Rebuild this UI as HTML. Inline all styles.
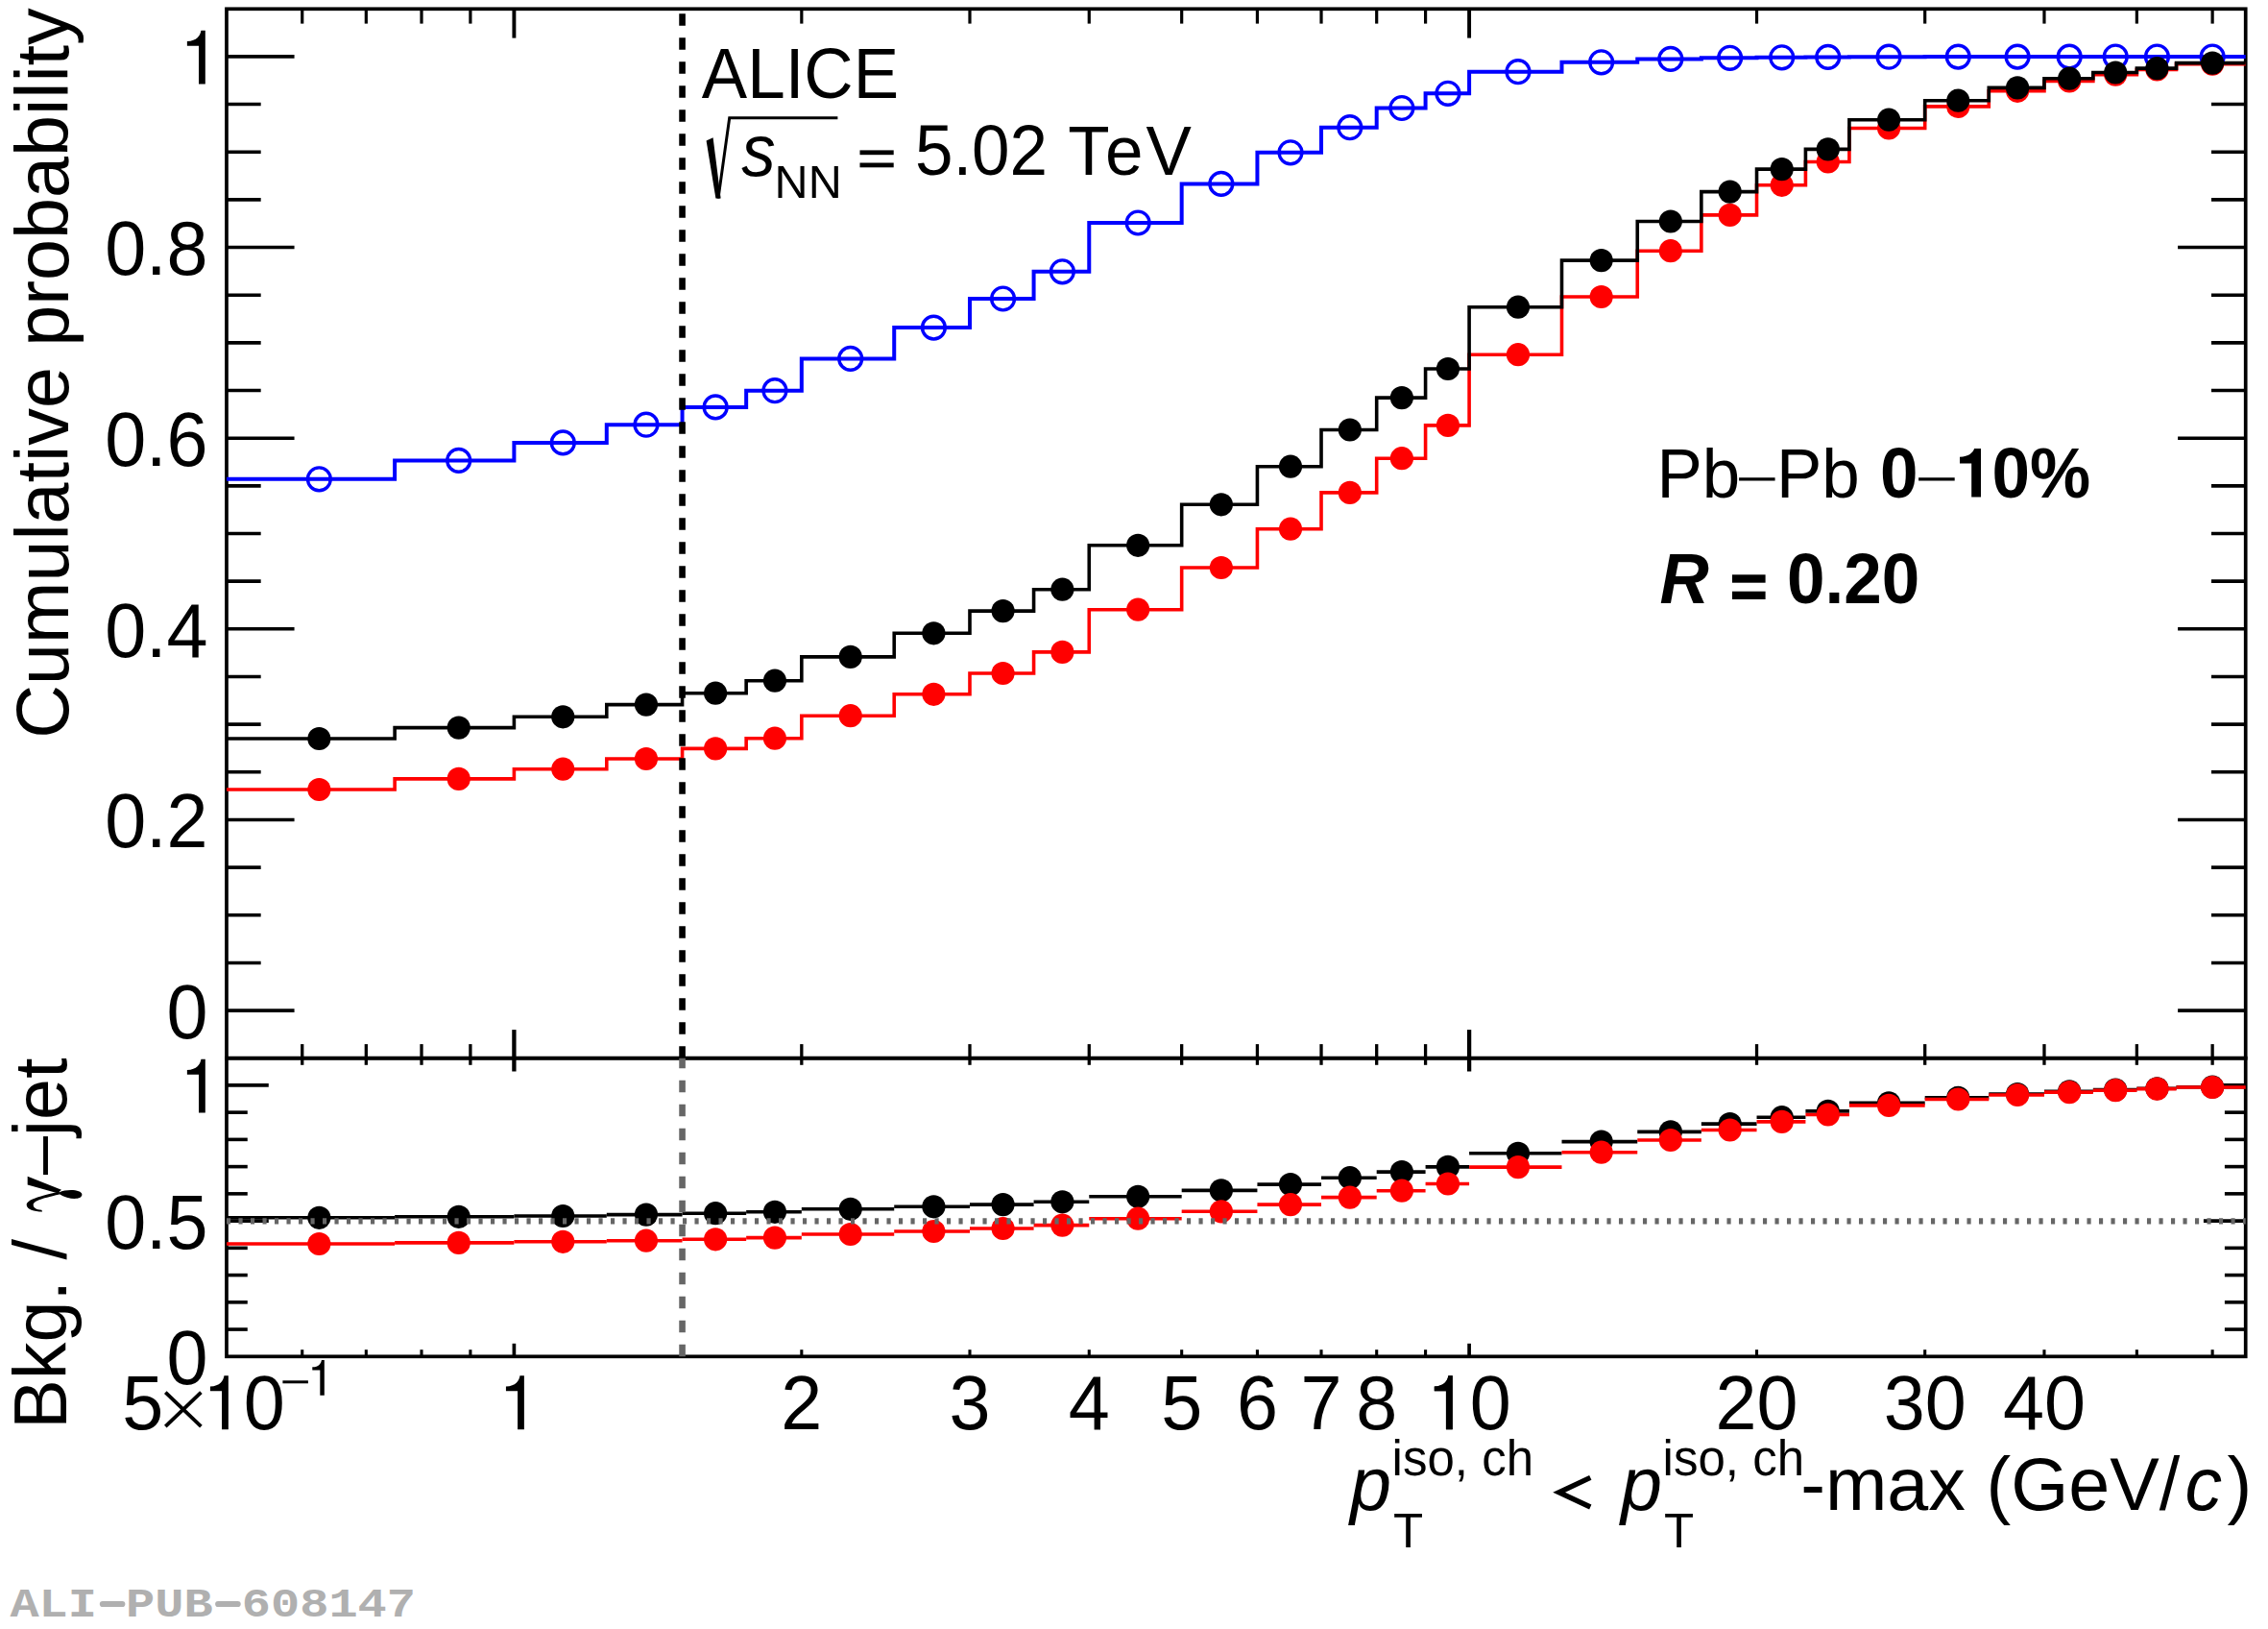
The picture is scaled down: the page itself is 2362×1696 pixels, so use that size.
<!DOCTYPE html>
<html><head><meta charset="utf-8"><title>ALI-PUB-608147</title>
<style>html,body{margin:0;padding:0;background:#fff}svg{display:block}text{font-family:"Liberation Sans",sans-serif}text.m{font-family:"Liberation Mono",monospace}</style></head>
<body>
<svg width="2362" height="1696" viewBox="0 0 2362 1696">
<rect width="2362" height="1696" fill="#fff"/>
<rect x="235.97" y="9.3" width="2102.74" height="1092.40" fill="none" stroke="#000" stroke-width="3.7"/>
<rect x="235.97" y="1101.7" width="2102.74" height="310.60" fill="none" stroke="#000" stroke-width="3.7"/>
<g id="ticks">
<line x1="235.97" y1="1052.10" x2="306.57" y2="1052.10" stroke="#000" stroke-width="3.6" />
<line x1="2338.70" y1="1052.10" x2="2268.10" y2="1052.10" stroke="#000" stroke-width="3.6" />
<line x1="235.97" y1="1002.44" x2="271.67" y2="1002.44" stroke="#000" stroke-width="3.6" />
<line x1="2338.70" y1="1002.44" x2="2303.00" y2="1002.44" stroke="#000" stroke-width="3.6" />
<line x1="235.97" y1="952.78" x2="271.67" y2="952.78" stroke="#000" stroke-width="3.6" />
<line x1="2338.70" y1="952.78" x2="2303.00" y2="952.78" stroke="#000" stroke-width="3.6" />
<line x1="235.97" y1="903.12" x2="271.67" y2="903.12" stroke="#000" stroke-width="3.6" />
<line x1="2338.70" y1="903.12" x2="2303.00" y2="903.12" stroke="#000" stroke-width="3.6" />
<line x1="235.97" y1="853.46" x2="306.57" y2="853.46" stroke="#000" stroke-width="3.6" />
<line x1="2338.70" y1="853.46" x2="2268.10" y2="853.46" stroke="#000" stroke-width="3.6" />
<line x1="235.97" y1="803.80" x2="271.67" y2="803.80" stroke="#000" stroke-width="3.6" />
<line x1="2338.70" y1="803.80" x2="2303.00" y2="803.80" stroke="#000" stroke-width="3.6" />
<line x1="235.97" y1="754.14" x2="271.67" y2="754.14" stroke="#000" stroke-width="3.6" />
<line x1="2338.70" y1="754.14" x2="2303.00" y2="754.14" stroke="#000" stroke-width="3.6" />
<line x1="235.97" y1="704.48" x2="271.67" y2="704.48" stroke="#000" stroke-width="3.6" />
<line x1="2338.70" y1="704.48" x2="2303.00" y2="704.48" stroke="#000" stroke-width="3.6" />
<line x1="235.97" y1="654.82" x2="306.57" y2="654.82" stroke="#000" stroke-width="3.6" />
<line x1="2338.70" y1="654.82" x2="2268.10" y2="654.82" stroke="#000" stroke-width="3.6" />
<line x1="235.97" y1="605.16" x2="271.67" y2="605.16" stroke="#000" stroke-width="3.6" />
<line x1="2338.70" y1="605.16" x2="2303.00" y2="605.16" stroke="#000" stroke-width="3.6" />
<line x1="235.97" y1="555.50" x2="271.67" y2="555.50" stroke="#000" stroke-width="3.6" />
<line x1="2338.70" y1="555.50" x2="2303.00" y2="555.50" stroke="#000" stroke-width="3.6" />
<line x1="235.97" y1="505.84" x2="271.67" y2="505.84" stroke="#000" stroke-width="3.6" />
<line x1="2338.70" y1="505.84" x2="2303.00" y2="505.84" stroke="#000" stroke-width="3.6" />
<line x1="235.97" y1="456.18" x2="306.57" y2="456.18" stroke="#000" stroke-width="3.6" />
<line x1="2338.70" y1="456.18" x2="2268.10" y2="456.18" stroke="#000" stroke-width="3.6" />
<line x1="235.97" y1="406.52" x2="271.67" y2="406.52" stroke="#000" stroke-width="3.6" />
<line x1="2338.70" y1="406.52" x2="2303.00" y2="406.52" stroke="#000" stroke-width="3.6" />
<line x1="235.97" y1="356.86" x2="271.67" y2="356.86" stroke="#000" stroke-width="3.6" />
<line x1="2338.70" y1="356.86" x2="2303.00" y2="356.86" stroke="#000" stroke-width="3.6" />
<line x1="235.97" y1="307.20" x2="271.67" y2="307.20" stroke="#000" stroke-width="3.6" />
<line x1="2338.70" y1="307.20" x2="2303.00" y2="307.20" stroke="#000" stroke-width="3.6" />
<line x1="235.97" y1="257.54" x2="306.57" y2="257.54" stroke="#000" stroke-width="3.6" />
<line x1="2338.70" y1="257.54" x2="2268.10" y2="257.54" stroke="#000" stroke-width="3.6" />
<line x1="235.97" y1="207.88" x2="271.67" y2="207.88" stroke="#000" stroke-width="3.6" />
<line x1="2338.70" y1="207.88" x2="2303.00" y2="207.88" stroke="#000" stroke-width="3.6" />
<line x1="235.97" y1="158.22" x2="271.67" y2="158.22" stroke="#000" stroke-width="3.6" />
<line x1="2338.70" y1="158.22" x2="2303.00" y2="158.22" stroke="#000" stroke-width="3.6" />
<line x1="235.97" y1="108.56" x2="271.67" y2="108.56" stroke="#000" stroke-width="3.6" />
<line x1="2338.70" y1="108.56" x2="2303.00" y2="108.56" stroke="#000" stroke-width="3.6" />
<line x1="235.97" y1="58.90" x2="306.57" y2="58.90" stroke="#000" stroke-width="3.6" />
<line x1="2338.70" y1="58.90" x2="2268.10" y2="58.90" stroke="#000" stroke-width="3.6" />
<line x1="235.97" y1="1384.06" x2="257.77" y2="1384.06" stroke="#000" stroke-width="3.6" />
<line x1="2338.70" y1="1384.06" x2="2316.90" y2="1384.06" stroke="#000" stroke-width="3.6" />
<line x1="235.97" y1="1355.82" x2="257.77" y2="1355.82" stroke="#000" stroke-width="3.6" />
<line x1="2338.70" y1="1355.82" x2="2316.90" y2="1355.82" stroke="#000" stroke-width="3.6" />
<line x1="235.97" y1="1327.58" x2="257.77" y2="1327.58" stroke="#000" stroke-width="3.6" />
<line x1="2338.70" y1="1327.58" x2="2316.90" y2="1327.58" stroke="#000" stroke-width="3.6" />
<line x1="235.97" y1="1299.34" x2="257.77" y2="1299.34" stroke="#000" stroke-width="3.6" />
<line x1="2338.70" y1="1299.34" x2="2316.90" y2="1299.34" stroke="#000" stroke-width="3.6" />
<line x1="235.97" y1="1271.10" x2="279.77" y2="1271.10" stroke="#000" stroke-width="3.6" />
<line x1="2338.70" y1="1271.10" x2="2294.90" y2="1271.10" stroke="#000" stroke-width="3.6" />
<line x1="235.97" y1="1242.86" x2="257.77" y2="1242.86" stroke="#000" stroke-width="3.6" />
<line x1="2338.70" y1="1242.86" x2="2316.90" y2="1242.86" stroke="#000" stroke-width="3.6" />
<line x1="235.97" y1="1214.62" x2="257.77" y2="1214.62" stroke="#000" stroke-width="3.6" />
<line x1="2338.70" y1="1214.62" x2="2316.90" y2="1214.62" stroke="#000" stroke-width="3.6" />
<line x1="235.97" y1="1186.38" x2="257.77" y2="1186.38" stroke="#000" stroke-width="3.6" />
<line x1="2338.70" y1="1186.38" x2="2316.90" y2="1186.38" stroke="#000" stroke-width="3.6" />
<line x1="235.97" y1="1158.14" x2="257.77" y2="1158.14" stroke="#000" stroke-width="3.6" />
<line x1="2338.70" y1="1158.14" x2="2316.90" y2="1158.14" stroke="#000" stroke-width="3.6" />
<line x1="235.97" y1="1129.90" x2="279.77" y2="1129.90" stroke="#000" stroke-width="3.6" />
<line x1="2338.70" y1="1129.90" x2="2294.90" y2="1129.90" stroke="#000" stroke-width="3.6" />
<line x1="535.40" y1="9.30" x2="535.40" y2="39.60" stroke="#000" stroke-width="3.9" />
<line x1="535.40" y1="1072.10" x2="535.40" y2="1115.50" stroke="#000" stroke-width="4.3" />
<line x1="535.40" y1="1412.30" x2="535.40" y2="1398.80" stroke="#000" stroke-width="3.7" />
<line x1="1530.10" y1="9.30" x2="1530.10" y2="39.60" stroke="#000" stroke-width="3.9" />
<line x1="1530.10" y1="1072.10" x2="1530.10" y2="1115.50" stroke="#000" stroke-width="4.3" />
<line x1="1530.10" y1="1412.30" x2="1530.10" y2="1398.80" stroke="#000" stroke-width="3.7" />
<line x1="314.73" y1="9.30" x2="314.73" y2="24.60" stroke="#000" stroke-width="3.2" />
<line x1="314.73" y1="1087.10" x2="314.73" y2="1108.80" stroke="#000" stroke-width="3.3" />
<line x1="314.73" y1="1412.30" x2="314.73" y2="1405.20" stroke="#000" stroke-width="3.1" />
<line x1="381.32" y1="9.30" x2="381.32" y2="24.60" stroke="#000" stroke-width="3.2" />
<line x1="381.32" y1="1087.10" x2="381.32" y2="1108.80" stroke="#000" stroke-width="3.3" />
<line x1="381.32" y1="1412.30" x2="381.32" y2="1405.20" stroke="#000" stroke-width="3.1" />
<line x1="439.00" y1="9.30" x2="439.00" y2="24.60" stroke="#000" stroke-width="3.2" />
<line x1="439.00" y1="1087.10" x2="439.00" y2="1108.80" stroke="#000" stroke-width="3.3" />
<line x1="439.00" y1="1412.30" x2="439.00" y2="1405.20" stroke="#000" stroke-width="3.1" />
<line x1="489.89" y1="9.30" x2="489.89" y2="24.60" stroke="#000" stroke-width="3.2" />
<line x1="489.89" y1="1087.10" x2="489.89" y2="1108.80" stroke="#000" stroke-width="3.3" />
<line x1="489.89" y1="1412.30" x2="489.89" y2="1405.20" stroke="#000" stroke-width="3.1" />
<line x1="834.83" y1="9.30" x2="834.83" y2="24.60" stroke="#000" stroke-width="3.2" />
<line x1="834.83" y1="1087.10" x2="834.83" y2="1108.80" stroke="#000" stroke-width="3.3" />
<line x1="834.83" y1="1412.30" x2="834.83" y2="1405.20" stroke="#000" stroke-width="3.1" />
<line x1="1009.99" y1="9.30" x2="1009.99" y2="24.60" stroke="#000" stroke-width="3.2" />
<line x1="1009.99" y1="1087.10" x2="1009.99" y2="1108.80" stroke="#000" stroke-width="3.3" />
<line x1="1009.99" y1="1412.30" x2="1009.99" y2="1405.20" stroke="#000" stroke-width="3.1" />
<line x1="1134.27" y1="9.30" x2="1134.27" y2="24.60" stroke="#000" stroke-width="3.2" />
<line x1="1134.27" y1="1087.10" x2="1134.27" y2="1108.80" stroke="#000" stroke-width="3.3" />
<line x1="1134.27" y1="1412.30" x2="1134.27" y2="1405.20" stroke="#000" stroke-width="3.1" />
<line x1="1230.67" y1="9.30" x2="1230.67" y2="24.60" stroke="#000" stroke-width="3.2" />
<line x1="1230.67" y1="1087.10" x2="1230.67" y2="1108.80" stroke="#000" stroke-width="3.3" />
<line x1="1230.67" y1="1412.30" x2="1230.67" y2="1405.20" stroke="#000" stroke-width="3.1" />
<line x1="1309.43" y1="9.30" x2="1309.43" y2="24.60" stroke="#000" stroke-width="3.2" />
<line x1="1309.43" y1="1087.10" x2="1309.43" y2="1108.80" stroke="#000" stroke-width="3.3" />
<line x1="1309.43" y1="1412.30" x2="1309.43" y2="1405.20" stroke="#000" stroke-width="3.1" />
<line x1="1376.02" y1="9.30" x2="1376.02" y2="24.60" stroke="#000" stroke-width="3.2" />
<line x1="1376.02" y1="1087.10" x2="1376.02" y2="1108.80" stroke="#000" stroke-width="3.3" />
<line x1="1376.02" y1="1412.30" x2="1376.02" y2="1405.20" stroke="#000" stroke-width="3.1" />
<line x1="1433.70" y1="9.30" x2="1433.70" y2="24.60" stroke="#000" stroke-width="3.2" />
<line x1="1433.70" y1="1087.10" x2="1433.70" y2="1108.80" stroke="#000" stroke-width="3.3" />
<line x1="1433.70" y1="1412.30" x2="1433.70" y2="1405.20" stroke="#000" stroke-width="3.1" />
<line x1="1484.59" y1="9.30" x2="1484.59" y2="24.60" stroke="#000" stroke-width="3.2" />
<line x1="1484.59" y1="1087.10" x2="1484.59" y2="1108.80" stroke="#000" stroke-width="3.3" />
<line x1="1484.59" y1="1412.30" x2="1484.59" y2="1405.20" stroke="#000" stroke-width="3.1" />
<line x1="1829.53" y1="9.30" x2="1829.53" y2="24.60" stroke="#000" stroke-width="3.2" />
<line x1="1829.53" y1="1087.10" x2="1829.53" y2="1108.80" stroke="#000" stroke-width="3.3" />
<line x1="1829.53" y1="1412.30" x2="1829.53" y2="1405.20" stroke="#000" stroke-width="3.1" />
<line x1="2004.69" y1="9.30" x2="2004.69" y2="24.60" stroke="#000" stroke-width="3.2" />
<line x1="2004.69" y1="1087.10" x2="2004.69" y2="1108.80" stroke="#000" stroke-width="3.3" />
<line x1="2004.69" y1="1412.30" x2="2004.69" y2="1405.20" stroke="#000" stroke-width="3.1" />
<line x1="2128.97" y1="9.30" x2="2128.97" y2="24.60" stroke="#000" stroke-width="3.2" />
<line x1="2128.97" y1="1087.10" x2="2128.97" y2="1108.80" stroke="#000" stroke-width="3.3" />
<line x1="2128.97" y1="1412.30" x2="2128.97" y2="1405.20" stroke="#000" stroke-width="3.1" />
<line x1="2225.37" y1="9.30" x2="2225.37" y2="24.60" stroke="#000" stroke-width="3.2" />
<line x1="2225.37" y1="1087.10" x2="2225.37" y2="1108.80" stroke="#000" stroke-width="3.3" />
<line x1="2225.37" y1="1412.30" x2="2225.37" y2="1405.20" stroke="#000" stroke-width="3.1" />
<line x1="2304.13" y1="9.30" x2="2304.13" y2="24.60" stroke="#000" stroke-width="3.2" />
<line x1="2304.13" y1="1087.10" x2="2304.13" y2="1108.80" stroke="#000" stroke-width="3.3" />
<line x1="2304.13" y1="1412.30" x2="2304.13" y2="1405.20" stroke="#000" stroke-width="3.1" />
</g>
<g id="upper">
<path d="M235.97,498.80 H411.12 V479.40 H535.40 V460.90 H631.80 V442.20 H710.56 V423.90 H777.15 V406.70 H834.83 V373.40 H931.23 V341.10 H1009.99 V311.00 H1076.58 V282.80 H1134.27 V232.00 H1230.67 V191.40 H1309.43 V158.80 H1376.02 V132.70 H1433.70 V112.50 H1484.59 V97.30 H1530.10 V74.70 H1626.50 V64.80 H1705.26 V61.40 H1771.85 V60.30 H1829.53 V59.80 H1880.42 V59.40 H1925.93 V59.20 H2004.69 V59.10 H2071.28 V59.10 H2128.97 V59.10 H2179.85 V59.00 H2225.37 V59.00 H2266.54 V59.00 H2338.70" fill="none" stroke="#0000ff" stroke-width="4.0" stroke-linejoin="miter"/>
<circle cx="332.36" cy="498.80" r="11.9" fill="none" stroke="#0000ff" stroke-width="3.4"/>
<circle cx="477.72" cy="479.40" r="11.9" fill="none" stroke="#0000ff" stroke-width="3.4"/>
<circle cx="586.28" cy="460.90" r="11.9" fill="none" stroke="#0000ff" stroke-width="3.4"/>
<circle cx="672.97" cy="442.20" r="11.9" fill="none" stroke="#0000ff" stroke-width="3.4"/>
<circle cx="745.14" cy="423.90" r="11.9" fill="none" stroke="#0000ff" stroke-width="3.4"/>
<circle cx="806.95" cy="406.70" r="11.9" fill="none" stroke="#0000ff" stroke-width="3.4"/>
<circle cx="885.72" cy="373.40" r="11.9" fill="none" stroke="#0000ff" stroke-width="3.4"/>
<circle cx="972.40" cy="341.10" r="11.9" fill="none" stroke="#0000ff" stroke-width="3.4"/>
<circle cx="1044.57" cy="311.00" r="11.9" fill="none" stroke="#0000ff" stroke-width="3.4"/>
<circle cx="1106.39" cy="282.80" r="11.9" fill="none" stroke="#0000ff" stroke-width="3.4"/>
<circle cx="1185.15" cy="232.00" r="11.9" fill="none" stroke="#0000ff" stroke-width="3.4"/>
<circle cx="1271.84" cy="191.40" r="11.9" fill="none" stroke="#0000ff" stroke-width="3.4"/>
<circle cx="1344.00" cy="158.80" r="11.9" fill="none" stroke="#0000ff" stroke-width="3.4"/>
<circle cx="1405.82" cy="132.70" r="11.9" fill="none" stroke="#0000ff" stroke-width="3.4"/>
<circle cx="1459.89" cy="112.50" r="11.9" fill="none" stroke="#0000ff" stroke-width="3.4"/>
<circle cx="1507.94" cy="97.30" r="11.9" fill="none" stroke="#0000ff" stroke-width="3.4"/>
<circle cx="1580.98" cy="74.70" r="11.9" fill="none" stroke="#0000ff" stroke-width="3.4"/>
<circle cx="1667.67" cy="64.80" r="11.9" fill="none" stroke="#0000ff" stroke-width="3.4"/>
<circle cx="1739.84" cy="61.40" r="11.9" fill="none" stroke="#0000ff" stroke-width="3.4"/>
<circle cx="1801.65" cy="60.30" r="11.9" fill="none" stroke="#0000ff" stroke-width="3.4"/>
<circle cx="1855.72" cy="59.80" r="11.9" fill="none" stroke="#0000ff" stroke-width="3.4"/>
<circle cx="1903.77" cy="59.40" r="11.9" fill="none" stroke="#0000ff" stroke-width="3.4"/>
<circle cx="1967.10" cy="59.20" r="11.9" fill="none" stroke="#0000ff" stroke-width="3.4"/>
<circle cx="2039.27" cy="59.10" r="11.9" fill="none" stroke="#0000ff" stroke-width="3.4"/>
<circle cx="2101.09" cy="59.10" r="11.9" fill="none" stroke="#0000ff" stroke-width="3.4"/>
<circle cx="2155.16" cy="59.10" r="11.9" fill="none" stroke="#0000ff" stroke-width="3.4"/>
<circle cx="2203.21" cy="59.00" r="11.9" fill="none" stroke="#0000ff" stroke-width="3.4"/>
<circle cx="2246.44" cy="59.00" r="11.9" fill="none" stroke="#0000ff" stroke-width="3.4"/>
<circle cx="2304.13" cy="59.00" r="11.9" fill="none" stroke="#0000ff" stroke-width="3.4"/>
<path d="M235.97,822.00 H411.12 V810.90 H535.40 V800.70 H631.80 V790.00 H710.56 V779.40 H777.15 V768.70 H834.83 V745.20 H931.23 V722.80 H1009.99 V701.00 H1076.58 V678.90 H1134.27 V634.70 H1230.67 V591.00 H1309.43 V550.70 H1376.02 V512.90 H1433.70 V477.20 H1484.59 V442.90 H1530.10 V369.20 H1626.50 V309.00 H1705.26 V261.20 H1771.85 V223.90 H1829.53 V192.80 H1880.42 V168.50 H1925.93 V133.50 H2004.69 V110.90 H2071.28 V94.80 H2128.97 V84.50 H2179.85 V77.60 H2225.37 V72.50 H2266.54 V66.70 H2338.70" fill="none" stroke="#ff0000" stroke-width="3.6" stroke-linejoin="miter"/>
<circle cx="332.36" cy="822.00" r="12.1" fill="#ff0000"/>
<circle cx="477.72" cy="810.90" r="12.1" fill="#ff0000"/>
<circle cx="586.28" cy="800.70" r="12.1" fill="#ff0000"/>
<circle cx="672.97" cy="790.00" r="12.1" fill="#ff0000"/>
<circle cx="745.14" cy="779.40" r="12.1" fill="#ff0000"/>
<circle cx="806.95" cy="768.70" r="12.1" fill="#ff0000"/>
<circle cx="885.72" cy="745.20" r="12.1" fill="#ff0000"/>
<circle cx="972.40" cy="722.80" r="12.1" fill="#ff0000"/>
<circle cx="1044.57" cy="701.00" r="12.1" fill="#ff0000"/>
<circle cx="1106.39" cy="678.90" r="12.1" fill="#ff0000"/>
<circle cx="1185.15" cy="634.70" r="12.1" fill="#ff0000"/>
<circle cx="1271.84" cy="591.00" r="12.1" fill="#ff0000"/>
<circle cx="1344.00" cy="550.70" r="12.1" fill="#ff0000"/>
<circle cx="1405.82" cy="512.90" r="12.1" fill="#ff0000"/>
<circle cx="1459.89" cy="477.20" r="12.1" fill="#ff0000"/>
<circle cx="1507.94" cy="442.90" r="12.1" fill="#ff0000"/>
<circle cx="1580.98" cy="369.20" r="12.1" fill="#ff0000"/>
<circle cx="1667.67" cy="309.00" r="12.1" fill="#ff0000"/>
<circle cx="1739.84" cy="261.20" r="12.1" fill="#ff0000"/>
<circle cx="1801.65" cy="223.90" r="12.1" fill="#ff0000"/>
<circle cx="1855.72" cy="192.80" r="12.1" fill="#ff0000"/>
<circle cx="1903.77" cy="168.50" r="12.1" fill="#ff0000"/>
<circle cx="1967.10" cy="133.50" r="12.1" fill="#ff0000"/>
<circle cx="2039.27" cy="110.90" r="12.1" fill="#ff0000"/>
<circle cx="2101.09" cy="94.80" r="12.1" fill="#ff0000"/>
<circle cx="2155.16" cy="84.50" r="12.1" fill="#ff0000"/>
<circle cx="2203.21" cy="77.60" r="12.1" fill="#ff0000"/>
<circle cx="2246.44" cy="72.50" r="12.1" fill="#ff0000"/>
<circle cx="2304.13" cy="66.70" r="12.1" fill="#ff0000"/>
<path d="M235.97,769.00 H411.12 V757.60 H535.40 V746.30 H631.80 V733.60 H710.56 V721.70 H777.15 V708.70 H834.83 V683.90 H931.23 V659.30 H1009.99 V636.10 H1076.58 V613.70 H1134.27 V567.80 H1230.67 V525.30 H1309.43 V485.70 H1376.02 V447.50 H1433.70 V414.10 H1484.59 V384.00 H1530.10 V319.70 H1626.50 V271.10 H1705.26 V230.50 H1771.85 V199.60 H1829.53 V176.10 H1880.42 V155.40 H1925.93 V124.70 H2004.69 V104.70 H2071.28 V91.40 H2128.97 V81.70 H2179.85 V75.50 H2225.37 V71.10 H2266.54 V65.60 H2338.70" fill="none" stroke="#000" stroke-width="3.6" stroke-linejoin="miter"/>
<circle cx="332.36" cy="769.00" r="12.1" fill="#000"/>
<circle cx="477.72" cy="757.60" r="12.1" fill="#000"/>
<circle cx="586.28" cy="746.30" r="12.1" fill="#000"/>
<circle cx="672.97" cy="733.60" r="12.1" fill="#000"/>
<circle cx="745.14" cy="721.70" r="12.1" fill="#000"/>
<circle cx="806.95" cy="708.70" r="12.1" fill="#000"/>
<circle cx="885.72" cy="683.90" r="12.1" fill="#000"/>
<circle cx="972.40" cy="659.30" r="12.1" fill="#000"/>
<circle cx="1044.57" cy="636.10" r="12.1" fill="#000"/>
<circle cx="1106.39" cy="613.70" r="12.1" fill="#000"/>
<circle cx="1185.15" cy="567.80" r="12.1" fill="#000"/>
<circle cx="1271.84" cy="525.30" r="12.1" fill="#000"/>
<circle cx="1344.00" cy="485.70" r="12.1" fill="#000"/>
<circle cx="1405.82" cy="447.50" r="12.1" fill="#000"/>
<circle cx="1459.89" cy="414.10" r="12.1" fill="#000"/>
<circle cx="1507.94" cy="384.00" r="12.1" fill="#000"/>
<circle cx="1580.98" cy="319.70" r="12.1" fill="#000"/>
<circle cx="1667.67" cy="271.10" r="12.1" fill="#000"/>
<circle cx="1739.84" cy="230.50" r="12.1" fill="#000"/>
<circle cx="1801.65" cy="199.60" r="12.1" fill="#000"/>
<circle cx="1855.72" cy="176.10" r="12.1" fill="#000"/>
<circle cx="1903.77" cy="155.40" r="12.1" fill="#000"/>
<circle cx="1967.10" cy="124.70" r="12.1" fill="#000"/>
<circle cx="2039.27" cy="104.70" r="12.1" fill="#000"/>
<circle cx="2101.09" cy="91.40" r="12.1" fill="#000"/>
<circle cx="2155.16" cy="81.70" r="12.1" fill="#000"/>
<circle cx="2203.21" cy="75.50" r="12.1" fill="#000"/>
<circle cx="2246.44" cy="71.10" r="12.1" fill="#000"/>
<circle cx="2304.13" cy="65.60" r="12.1" fill="#000"/>
</g>
<g id="lower">
<line x1="235.97" y1="1267.80" x2="411.12" y2="1267.80" stroke="#000" stroke-width="3.6" />
<line x1="411.12" y1="1266.80" x2="535.40" y2="1266.80" stroke="#000" stroke-width="3.6" />
<line x1="535.40" y1="1266.00" x2="631.80" y2="1266.00" stroke="#000" stroke-width="3.6" />
<line x1="631.80" y1="1264.60" x2="710.56" y2="1264.60" stroke="#000" stroke-width="3.6" />
<line x1="710.56" y1="1263.20" x2="777.15" y2="1263.20" stroke="#000" stroke-width="3.6" />
<line x1="777.15" y1="1261.80" x2="834.83" y2="1261.80" stroke="#000" stroke-width="3.6" />
<line x1="834.83" y1="1258.80" x2="931.23" y2="1258.80" stroke="#000" stroke-width="3.6" />
<line x1="931.23" y1="1256.30" x2="1009.99" y2="1256.30" stroke="#000" stroke-width="3.6" />
<line x1="1009.99" y1="1254.10" x2="1076.58" y2="1254.10" stroke="#000" stroke-width="3.6" />
<line x1="1076.58" y1="1251.30" x2="1134.27" y2="1251.30" stroke="#000" stroke-width="3.6" />
<line x1="1134.27" y1="1245.80" x2="1230.67" y2="1245.80" stroke="#000" stroke-width="3.6" />
<line x1="1230.67" y1="1239.40" x2="1309.43" y2="1239.40" stroke="#000" stroke-width="3.6" />
<line x1="1309.43" y1="1233.10" x2="1376.02" y2="1233.10" stroke="#000" stroke-width="3.6" />
<line x1="1376.02" y1="1226.20" x2="1433.70" y2="1226.20" stroke="#000" stroke-width="3.6" />
<line x1="1433.70" y1="1220.10" x2="1484.59" y2="1220.10" stroke="#000" stroke-width="3.6" />
<line x1="1484.59" y1="1214.90" x2="1530.10" y2="1214.90" stroke="#000" stroke-width="3.6" />
<line x1="1530.10" y1="1200.80" x2="1626.50" y2="1200.80" stroke="#000" stroke-width="3.6" />
<line x1="1626.50" y1="1188.60" x2="1705.26" y2="1188.60" stroke="#000" stroke-width="3.6" />
<line x1="1705.26" y1="1178.40" x2="1771.85" y2="1178.40" stroke="#000" stroke-width="3.6" />
<line x1="1771.85" y1="1170.10" x2="1829.53" y2="1170.10" stroke="#000" stroke-width="3.6" />
<line x1="1829.53" y1="1163.20" x2="1880.42" y2="1163.20" stroke="#000" stroke-width="3.6" />
<line x1="1880.42" y1="1156.90" x2="1925.93" y2="1156.90" stroke="#000" stroke-width="3.6" />
<line x1="1925.93" y1="1148.40" x2="2004.69" y2="1148.40" stroke="#000" stroke-width="3.6" />
<line x1="2004.69" y1="1142.90" x2="2071.28" y2="1142.90" stroke="#000" stroke-width="3.6" />
<line x1="2071.28" y1="1139.10" x2="2128.97" y2="1139.10" stroke="#000" stroke-width="3.6" />
<line x1="2128.97" y1="1136.30" x2="2179.85" y2="1136.30" stroke="#000" stroke-width="3.6" />
<line x1="2179.85" y1="1134.60" x2="2225.37" y2="1134.60" stroke="#000" stroke-width="3.6" />
<line x1="2225.37" y1="1133.30" x2="2266.54" y2="1133.30" stroke="#000" stroke-width="3.6" />
<line x1="2266.54" y1="1131.70" x2="2338.70" y2="1131.70" stroke="#000" stroke-width="3.6" />
<circle cx="332.36" cy="1267.80" r="12.1" fill="#000"/>
<circle cx="477.72" cy="1266.80" r="12.1" fill="#000"/>
<circle cx="586.28" cy="1266.00" r="12.1" fill="#000"/>
<circle cx="672.97" cy="1264.60" r="12.1" fill="#000"/>
<circle cx="745.14" cy="1263.20" r="12.1" fill="#000"/>
<circle cx="806.95" cy="1261.80" r="12.1" fill="#000"/>
<circle cx="885.72" cy="1258.80" r="12.1" fill="#000"/>
<circle cx="972.40" cy="1256.30" r="12.1" fill="#000"/>
<circle cx="1044.57" cy="1254.10" r="12.1" fill="#000"/>
<circle cx="1106.39" cy="1251.30" r="12.1" fill="#000"/>
<circle cx="1185.15" cy="1245.80" r="12.1" fill="#000"/>
<circle cx="1271.84" cy="1239.40" r="12.1" fill="#000"/>
<circle cx="1344.00" cy="1233.10" r="12.1" fill="#000"/>
<circle cx="1405.82" cy="1226.20" r="12.1" fill="#000"/>
<circle cx="1459.89" cy="1220.10" r="12.1" fill="#000"/>
<circle cx="1507.94" cy="1214.90" r="12.1" fill="#000"/>
<circle cx="1580.98" cy="1200.80" r="12.1" fill="#000"/>
<circle cx="1667.67" cy="1188.60" r="12.1" fill="#000"/>
<circle cx="1739.84" cy="1178.40" r="12.1" fill="#000"/>
<circle cx="1801.65" cy="1170.10" r="12.1" fill="#000"/>
<circle cx="1855.72" cy="1163.20" r="12.1" fill="#000"/>
<circle cx="1903.77" cy="1156.90" r="12.1" fill="#000"/>
<circle cx="1967.10" cy="1148.40" r="12.1" fill="#000"/>
<circle cx="2039.27" cy="1142.90" r="12.1" fill="#000"/>
<circle cx="2101.09" cy="1139.10" r="12.1" fill="#000"/>
<circle cx="2155.16" cy="1136.30" r="12.1" fill="#000"/>
<circle cx="2203.21" cy="1134.60" r="12.1" fill="#000"/>
<circle cx="2246.44" cy="1133.30" r="12.1" fill="#000"/>
<circle cx="2304.13" cy="1131.70" r="12.1" fill="#000"/>
<line x1="235.97" y1="1295.00" x2="411.12" y2="1295.00" stroke="#ff0000" stroke-width="3.6" />
<line x1="411.12" y1="1293.90" x2="535.40" y2="1293.90" stroke="#ff0000" stroke-width="3.6" />
<line x1="535.40" y1="1292.80" x2="631.80" y2="1292.80" stroke="#ff0000" stroke-width="3.6" />
<line x1="631.80" y1="1291.70" x2="710.56" y2="1291.70" stroke="#ff0000" stroke-width="3.6" />
<line x1="710.56" y1="1290.30" x2="777.15" y2="1290.30" stroke="#ff0000" stroke-width="3.6" />
<line x1="777.15" y1="1288.60" x2="834.83" y2="1288.60" stroke="#ff0000" stroke-width="3.6" />
<line x1="834.83" y1="1285.00" x2="931.23" y2="1285.00" stroke="#ff0000" stroke-width="3.6" />
<line x1="931.23" y1="1282.00" x2="1009.99" y2="1282.00" stroke="#ff0000" stroke-width="3.6" />
<line x1="1009.99" y1="1279.00" x2="1076.58" y2="1279.00" stroke="#ff0000" stroke-width="3.6" />
<line x1="1076.58" y1="1275.60" x2="1134.27" y2="1275.60" stroke="#ff0000" stroke-width="3.6" />
<line x1="1134.27" y1="1268.70" x2="1230.67" y2="1268.70" stroke="#ff0000" stroke-width="3.6" />
<line x1="1230.67" y1="1261.30" x2="1309.43" y2="1261.30" stroke="#ff0000" stroke-width="3.6" />
<line x1="1309.43" y1="1254.10" x2="1376.02" y2="1254.10" stroke="#ff0000" stroke-width="3.6" />
<line x1="1376.02" y1="1246.60" x2="1433.70" y2="1246.60" stroke="#ff0000" stroke-width="3.6" />
<line x1="1433.70" y1="1239.70" x2="1484.59" y2="1239.70" stroke="#ff0000" stroke-width="3.6" />
<line x1="1484.59" y1="1232.50" x2="1530.10" y2="1232.50" stroke="#ff0000" stroke-width="3.6" />
<line x1="1530.10" y1="1215.10" x2="1626.50" y2="1215.10" stroke="#ff0000" stroke-width="3.6" />
<line x1="1626.50" y1="1199.70" x2="1705.26" y2="1199.70" stroke="#ff0000" stroke-width="3.6" />
<line x1="1705.26" y1="1187.00" x2="1771.85" y2="1187.00" stroke="#ff0000" stroke-width="3.6" />
<line x1="1771.85" y1="1176.50" x2="1829.53" y2="1176.50" stroke="#ff0000" stroke-width="3.6" />
<line x1="1829.53" y1="1167.90" x2="1880.42" y2="1167.90" stroke="#ff0000" stroke-width="3.6" />
<line x1="1880.42" y1="1160.50" x2="1925.93" y2="1160.50" stroke="#ff0000" stroke-width="3.6" />
<line x1="1925.93" y1="1150.90" x2="2004.69" y2="1150.90" stroke="#ff0000" stroke-width="3.6" />
<line x1="2004.69" y1="1144.50" x2="2071.28" y2="1144.50" stroke="#ff0000" stroke-width="3.6" />
<line x1="2071.28" y1="1140.00" x2="2128.97" y2="1140.00" stroke="#ff0000" stroke-width="3.6" />
<line x1="2128.97" y1="1137.10" x2="2179.85" y2="1137.10" stroke="#ff0000" stroke-width="3.6" />
<line x1="2179.85" y1="1135.20" x2="2225.37" y2="1135.20" stroke="#ff0000" stroke-width="3.6" />
<line x1="2225.37" y1="1133.60" x2="2266.54" y2="1133.60" stroke="#ff0000" stroke-width="3.6" />
<line x1="2266.54" y1="1132.00" x2="2338.70" y2="1132.00" stroke="#ff0000" stroke-width="3.6" />
<circle cx="332.36" cy="1295.00" r="12.1" fill="#ff0000"/>
<circle cx="477.72" cy="1293.90" r="12.1" fill="#ff0000"/>
<circle cx="586.28" cy="1292.80" r="12.1" fill="#ff0000"/>
<circle cx="672.97" cy="1291.70" r="12.1" fill="#ff0000"/>
<circle cx="745.14" cy="1290.30" r="12.1" fill="#ff0000"/>
<circle cx="806.95" cy="1288.60" r="12.1" fill="#ff0000"/>
<circle cx="885.72" cy="1285.00" r="12.1" fill="#ff0000"/>
<circle cx="972.40" cy="1282.00" r="12.1" fill="#ff0000"/>
<circle cx="1044.57" cy="1279.00" r="12.1" fill="#ff0000"/>
<circle cx="1106.39" cy="1275.60" r="12.1" fill="#ff0000"/>
<circle cx="1185.15" cy="1268.70" r="12.1" fill="#ff0000"/>
<circle cx="1271.84" cy="1261.30" r="12.1" fill="#ff0000"/>
<circle cx="1344.00" cy="1254.10" r="12.1" fill="#ff0000"/>
<circle cx="1405.82" cy="1246.60" r="12.1" fill="#ff0000"/>
<circle cx="1459.89" cy="1239.70" r="12.1" fill="#ff0000"/>
<circle cx="1507.94" cy="1232.50" r="12.1" fill="#ff0000"/>
<circle cx="1580.98" cy="1215.10" r="12.1" fill="#ff0000"/>
<circle cx="1667.67" cy="1199.70" r="12.1" fill="#ff0000"/>
<circle cx="1739.84" cy="1187.00" r="12.1" fill="#ff0000"/>
<circle cx="1801.65" cy="1176.50" r="12.1" fill="#ff0000"/>
<circle cx="1855.72" cy="1167.90" r="12.1" fill="#ff0000"/>
<circle cx="1903.77" cy="1160.50" r="12.1" fill="#ff0000"/>
<circle cx="1967.10" cy="1150.90" r="12.1" fill="#ff0000"/>
<circle cx="2039.27" cy="1144.50" r="12.1" fill="#ff0000"/>
<circle cx="2101.09" cy="1140.00" r="12.1" fill="#ff0000"/>
<circle cx="2155.16" cy="1137.10" r="12.1" fill="#ff0000"/>
<circle cx="2203.21" cy="1135.20" r="12.1" fill="#ff0000"/>
<circle cx="2246.44" cy="1133.60" r="12.1" fill="#ff0000"/>
<circle cx="2304.13" cy="1132.00" r="12.1" fill="#ff0000"/>
</g>
<line x1="710.56" y1="1101.70" x2="710.56" y2="9.30" stroke="#000" stroke-width="6.6" stroke-dasharray="12.5 12.5"/>
<line x1="710.56" y1="1412.30" x2="710.56" y2="1101.70" stroke="#666" stroke-width="6.6" stroke-dasharray="12.5 12.5"/>
<line x1="235.97" y1="1271.40" x2="2338.70" y2="1271.40" stroke="#666" stroke-width="6.3" stroke-dasharray="4.17 8.33"/>
<text transform="translate(216.60,286.24) scale(1.0,1.04)"  font-size="77.3" text-anchor="end" fill="#000" >0.8</text>
<text transform="translate(216.60,484.88) scale(1.0,1.04)"  font-size="77.3" text-anchor="end" fill="#000" >0.6</text>
<text transform="translate(216.60,683.52) scale(1.0,1.04)"  font-size="77.3" text-anchor="end" fill="#000" >0.4</text>
<text transform="translate(216.60,882.16) scale(1.0,1.04)"  font-size="77.3" text-anchor="end" fill="#000" >0.2</text>
<text transform="translate(216.60,1080.80) scale(1.0,1.04)"  font-size="77.3" text-anchor="end" fill="#000" >0</text>
<path transform="translate(186.98,87.60) scale(0.07730,-0.07892)" d="M259,0 H347 V709 H290 C279,640 235,572 102,566 V505 H259 Z" fill="#000"/>
<text transform="translate(216.60,1299.80) scale(1.0,1.04)"  font-size="77.3" text-anchor="end" fill="#000" >0.5</text>
<text transform="translate(216.60,1441.00) scale(1.0,1.04)"  font-size="77.3" text-anchor="end" fill="#000" >0</text>
<path transform="translate(186.98,1158.60) scale(0.07730,-0.07892)" d="M259,0 H347 V709 H290 C279,640 235,572 102,566 V505 H259 Z" fill="#000"/>
<text transform="translate(834.83,1488.20) scale(1.0,1.04)"  font-size="77.3" text-anchor="middle" fill="#000" >2</text>
<text transform="translate(1009.99,1488.20) scale(1.0,1.04)"  font-size="77.3" text-anchor="middle" fill="#000" >3</text>
<text transform="translate(1134.27,1488.20) scale(1.0,1.04)"  font-size="77.3" text-anchor="middle" fill="#000" >4</text>
<text transform="translate(1230.67,1488.20) scale(1.0,1.04)"  font-size="77.3" text-anchor="middle" fill="#000" >5</text>
<text transform="translate(1309.43,1488.20) scale(1.0,1.04)"  font-size="77.3" text-anchor="middle" fill="#000" >6</text>
<text transform="translate(1376.02,1488.20) scale(1.0,1.04)"  font-size="77.3" text-anchor="middle" fill="#000" >7</text>
<text transform="translate(1433.70,1488.20) scale(1.0,1.04)"  font-size="77.3" text-anchor="middle" fill="#000" >8</text>
<text transform="translate(1829.53,1488.20) scale(1.0,1.04)"  font-size="77.3" text-anchor="middle" fill="#000" >20</text>
<text transform="translate(2004.69,1488.20) scale(1.0,1.04)"  font-size="77.3" text-anchor="middle" fill="#000" >30</text>
<text transform="translate(2128.97,1488.20) scale(1.0,1.04)"  font-size="77.3" text-anchor="middle" fill="#000" >40</text>
<path transform="translate(519.05,1488.20) scale(0.07730,-0.07892)" d="M259,0 H347 V709 H290 C279,640 235,572 102,566 V505 H259 Z" fill="#000"/>
<path transform="translate(1485.92,1488.20) scale(0.07730,-0.07892)" d="M259,0 H347 V709 H290 C279,640 235,572 102,566 V505 H259 Z" fill="#000"/>
<path transform="translate(1485.92,1488.20) scale(0.07730,-0.07892)" d="M259,0 H347 V709 H290 C279,640 235,572 102,566 V505 H259 Z" fill="#000"/>
<text transform="translate(1530.79,1488.20) scale(1.0,1.04)"  font-size="77.3" text-anchor="start" fill="#000" >0</text>
<text transform="translate(127.30,1488.20) scale(1.0,1.04)"  font-size="77.3" text-anchor="start" fill="#000" >5</text>
<line x1="172.30" y1="1449.60" x2="209.40" y2="1485.20" stroke="#000" stroke-width="3.8" />
<line x1="172.30" y1="1485.20" x2="209.40" y2="1449.60" stroke="#000" stroke-width="3.8" />
<path transform="translate(211.02,1488.20) scale(0.07730,-0.07892)" d="M259,0 H347 V709 H290 C279,640 235,572 102,566 V505 H259 Z" fill="#000"/>
<text transform="translate(253.69,1488.20) scale(1.0,1.04)"  font-size="77.3" text-anchor="start" fill="#000" >0</text>
<line x1="294.40" y1="1438.80" x2="320.90" y2="1438.80" stroke="#000" stroke-width="3.0" />
<path transform="translate(320.10,1452.80) scale(0.05100,-0.05207)" d="M259,0 H347 V709 H290 C279,640 235,572 102,566 V505 H259 Z" fill="#000"/>
<text transform="translate(71.20,8.30) rotate(-90)"  font-size="77.3" text-anchor="end" fill="#000" >Cumulative probability</text>
<text transform="translate(68.50,1487.70) rotate(-90)"  font-size="77.3" text-anchor="start" fill="#000" >Bkg. /</text>
<text transform="translate(68.50,1101.50) rotate(-90)"  font-size="77.3" text-anchor="end" fill="#000" >jet</text>
<line x1="47.50" y1="1223.10" x2="47.50" y2="1183.10" stroke="#000" stroke-width="4.9" />
<g transform="translate(68.5,1261.6) rotate(-90) scale(1,-1)"><path d="M28.0,39.8 L36.8,39.8 L22.8,4.5 L19.4,8.5 Z" fill="#000"/><path d="M0,24.3 C0,33 2.5,40.8 7,40.8 C11.5,40.8 15,34 21.2,6.6 L18.2,6.6 C13.5,27 11,33.8 7.2,33.8 C4.5,33.8 2.4,31 1.8,25.2 Z" fill="#000"/><path d="M20.2,7 C23.8,-1 23.4,-16.6 17.8,-16.9 C12.0,-16.6 12.2,-3 18.6,7 Z" fill="#000"/></g>
<text transform="translate(1406.00,1571.60)"  font-size="77.3" text-anchor="start" fill="#000" font-style="italic">p</text>
<text transform="translate(1449.60,1535.70)"  font-size="51" text-anchor="start" fill="#000" >iso, ch</text>
<text transform="translate(1450.90,1611.10) scale(1.0,0.98)"  font-size="51" text-anchor="start" fill="#000" >T</text>
<path d="M1656.3,1538.4 L1623.6,1553.7 L1656.3,1569.0" fill="none" stroke="#000" stroke-width="5.4" stroke-linejoin="miter"/>
<text transform="translate(1688.00,1571.60)"  font-size="77.3" text-anchor="start" fill="#000" font-style="italic">p</text>
<text transform="translate(1731.60,1535.70)"  font-size="51" text-anchor="start" fill="#000" >iso, ch</text>
<text transform="translate(1732.90,1611.10) scale(1.0,0.98)"  font-size="51" text-anchor="start" fill="#000" >T</text>
<text transform="translate(1875.20,1571.60)"  font-size="77.3" text-anchor="start" fill="#000" >-max (GeV/</text>
<text transform="translate(2275.60,1571.60)"  font-size="77.3" text-anchor="start" fill="#000" font-style="italic">c</text>
<text transform="translate(2319.60,1571.60)"  font-size="77.3" text-anchor="start" fill="#000" >)</text>
<text transform="translate(730.80,102.00) scale(1.0,1.054)"  font-size="71" text-anchor="start" fill="#000" >ALICE</text>
<path d="M735.6,146.6 L742.6,143.2 L750.6,206.6 L745.4,206.6 Z" fill="#000"/>
<path d="M748.0,206.6 L759.7,122.7 L872.4,122.7" fill="none" stroke="#000" stroke-width="3.0" stroke-linejoin="miter"/>
<text transform="translate(772.30,182.90) scale(1.0,1.06)"  font-size="71" text-anchor="start" fill="#000" font-style="italic">s</text>
<text transform="translate(806.60,206.40) scale(1.045,1.04)"  font-size="46.5" text-anchor="start" fill="#000" >NN</text>
<rect x="895.50" y="156.40" width="35.20" height="4.80" fill="#000"/>
<rect x="895.50" y="169.50" width="35.20" height="4.80" fill="#000"/>
<text transform="translate(952.90,182.10) scale(1.0,1.04)"  font-size="71" text-anchor="start" fill="#000" >5.02</text>
<text transform="translate(1112.20,182.10) scale(1.0,1.02)"  font-size="71" text-anchor="start" fill="#000" letter-spacing="3.2">TeV</text>
<text transform="translate(1725.40,517.50) scale(1.0,1.025)"  font-size="71" text-anchor="start" fill="#000" >Pb</text>
<line x1="1811.10" y1="498.80" x2="1848.60" y2="498.80" stroke="#000" stroke-width="3.3" />
<text transform="translate(1849.90,517.50) scale(1.0,1.025)"  font-size="71" text-anchor="start" fill="#000" >Pb</text>
<text transform="translate(1957.90,517.50) scale(1.0,1.04)"  font-size="71" text-anchor="start" fill="#000" font-weight="bold">0</text>
<line x1="1998.10" y1="498.80" x2="2035.70" y2="498.80" stroke="#000" stroke-width="3.3" />
<path d="M2053.2,517.6 H2063.0 V467.1 H2056.1 C2054.5,471.5 2050.5,475.5 2041,475.8 V482.4 H2053.2 Z" fill="#000"/>
<text transform="translate(2074.50,517.50) scale(1.0,1.04)"  font-size="71" text-anchor="start" fill="#000" font-weight="bold">0%</text>
<text transform="translate(1728.40,628.00) scale(1.0,1.04)"  font-size="71" text-anchor="start" fill="#000" font-weight="bold" font-style="italic">R</text>
<rect x="1804.00" y="598.30" width="34.60" height="8.40" fill="#000"/>
<rect x="1804.00" y="615.70" width="34.60" height="8.30" fill="#000"/>
<text transform="translate(1861.00,628.00) scale(1.0,1.04)"  font-size="71" text-anchor="start" fill="#000" font-weight="bold">0.20</text>
<text transform="translate(10.40,1682.80) scale(1.0,0.85)" class="m" font-size="50.3" text-anchor="start" fill="#b0b0b0" font-weight="bold">ALI</text>
<text transform="translate(131.12,1682.80) scale(1.0,0.85)" class="m" font-size="50.3" text-anchor="start" fill="#b0b0b0" font-weight="bold">PUB</text>
<text transform="translate(251.84,1682.80) scale(1.0,0.85)" class="m" font-size="50.3" text-anchor="start" fill="#b0b0b0" font-weight="bold">608147</text>
<line x1="106.90" y1="1670.00" x2="127.30" y2="1670.00" stroke="#b0b0b0" stroke-width="6.2" stroke-linecap="round"/>
<line x1="227.20" y1="1670.00" x2="247.60" y2="1670.00" stroke="#b0b0b0" stroke-width="6.2" stroke-linecap="round"/>
</svg>
</body></html>
